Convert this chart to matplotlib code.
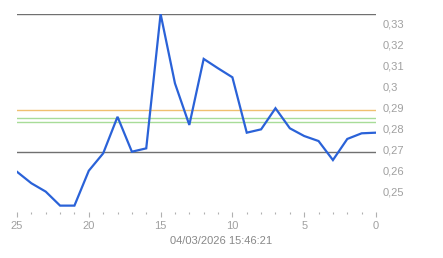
import matplotlib.pyplot as plt
from matplotlib.ticker import FuncFormatter, MultipleLocator

# valores (x = muestras hacia atras)
x = list(range(25, -1, -1))
values = [0.2593, 0.2538, 0.2498, 0.2431, 0.2431, 0.2598, 0.2681, 0.2856,
          0.2689, 0.2705, 0.3348, 0.3016, 0.2817, 0.3133, 0.3088, 0.3045,
          0.2780, 0.2796, 0.2897, 0.2801, 0.2764, 0.2740, 0.2649, 0.2750,
          0.2777, 0.2780]

max_line = 0.3348
min_line = 0.2686
orange_line = 0.2889
green_lines = [0.2850, 0.2831]
timestamp = "04/03/2026 15:46:21"

plt.rcParams['font.family'] = ['Liberation Sans', 'DejaVu Sans']

fig = plt.figure(figsize=(4.43, 2.58), dpi=100)
ax = fig.add_axes([17 / 443, 0.1779, (376 - 17) / 443, 0.7696])

ax.axhline(max_line, color='#707070', lw=1.0)
ax.axhline(min_line, color='#707070', lw=1.0)
ax.axhline(orange_line, color='#f0c070', lw=1.0)
for g in green_lines:
    ax.axhline(g, color='#a8dc98', lw=1.0)

ax.plot(x, values, color='#2a62d8', lw=1.6, solid_joinstyle='miter')

ax.set_xlim(25, 0)
ax.set_ylim(0.24, 0.335)

for s in ax.spines.values():
    s.set_visible(False)

ax.yaxis.tick_right()
ax.set_yticks([0.25, 0.26, 0.27, 0.28, 0.29, 0.30, 0.31, 0.32, 0.33])
ax.yaxis.set_major_formatter(FuncFormatter(lambda v, p: ('%g' % round(v, 2)).replace('.', ',')))
ax.tick_params(axis='y', length=0, pad=5, labelsize=8, labelcolor='#a0a0a0')

ax.xaxis.set_major_locator(MultipleLocator(5))
ax.xaxis.set_minor_locator(MultipleLocator(1))
ax.tick_params(axis='x', which='major', length=3.5, width=0.8, color='#b0b0b0',
               labelsize=8, labelcolor='#a0a0a0', pad=3)
ax.tick_params(axis='x', which='minor', length=1.5, width=0.8, color='#b0b0b0')

fig.text(221.5 / 443, 1 - 241 / 258, timestamp, ha='center', va='center',
         fontsize=8, color='#888888')

fig.savefig('out.png', dpi=100)
